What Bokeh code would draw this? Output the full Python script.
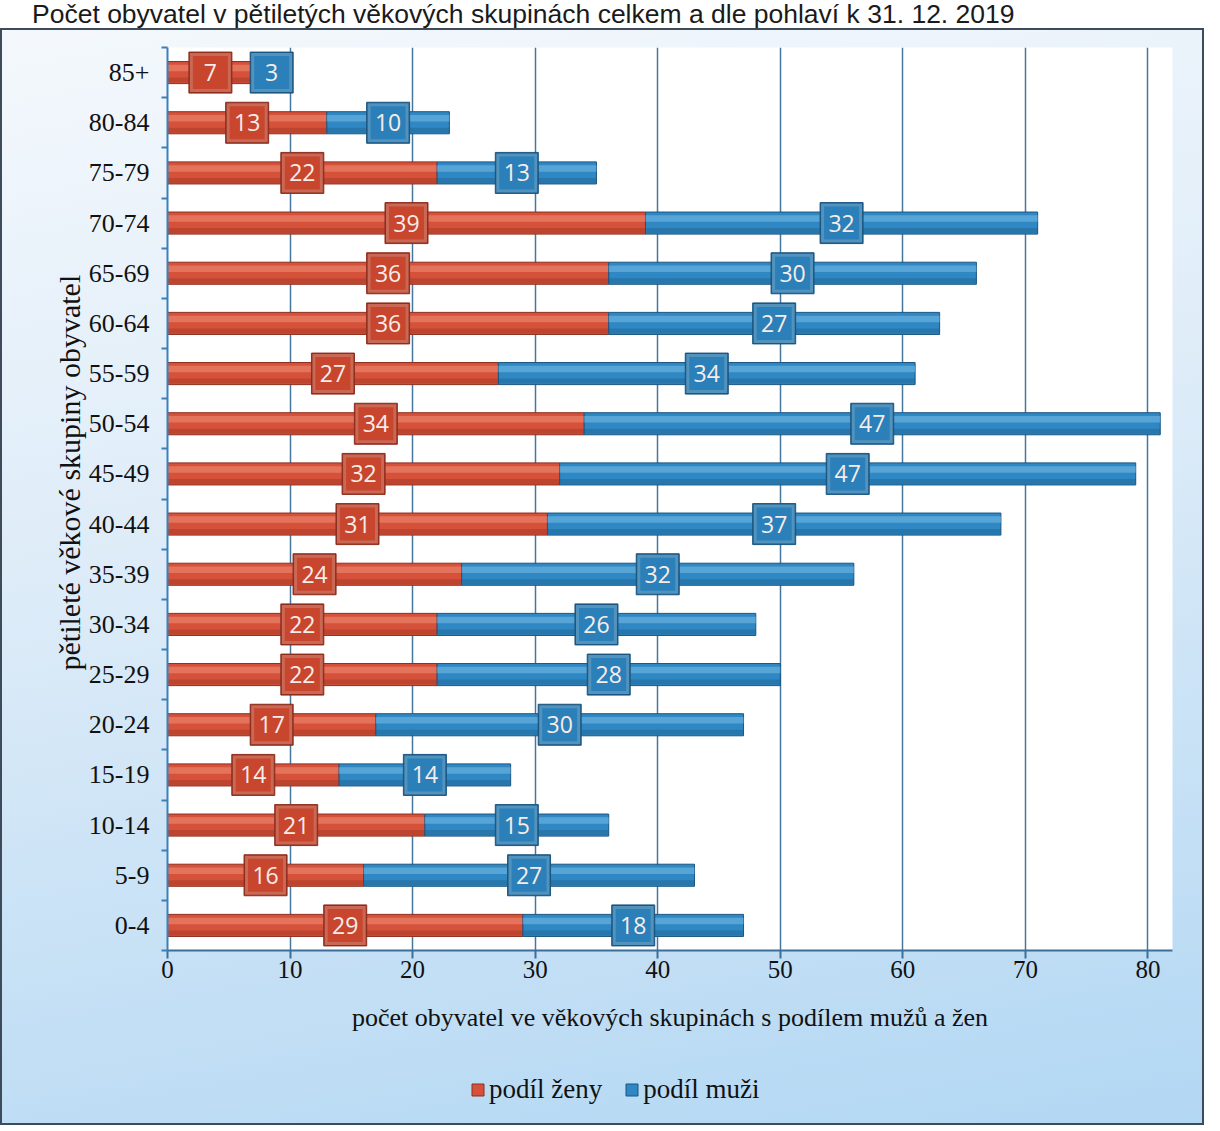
from bokeh.plotting import figure
from bokeh.models import (ColumnDataSource, FixedTicker, Legend, LegendItem, Div, Range1d, Title)
from bokeh.layouts import column
from bokeh.embed import file_html
from bokeh.resources import INLINE
from bokeh.core.properties import value

# ---- data (bottom to top) ----
groups = ["0-4", "5-9", "10-14", "15-19", "20-24", "25-29", "30-34", "35-39", "40-44",
          "45-49", "50-54", "55-59", "60-64", "65-69", "70-74", "75-79", "80-84", "85+"]
zeny = [29, 16, 21, 14, 17, 22, 22, 24, 31, 32, 34, 27, 36, 36, 39, 22, 13, 7]
muzi = [18, 27, 15, 14, 30, 28, 26, 32, 37, 47, 47, 34, 27, 30, 32, 13, 10, 3]
x_ticks = [0, 10, 20, 30, 40, 50, 60, 70, 80]
series_names = ["podíl ženy", "podíl muži"]

title_text = "Počet obyvatel v pětiletých věkových skupinách celkem a dle pohlaví k 31. 12. 2019"
x_title = "počet obyvatel ve věkových skupinách s podílem mužů a žen"
y_title = "pětileté věkové skupiny obyvatel"

RED, RED_HI, RED_DK, RED_BOX = "#d6513a", "#f09078", "#8f2e1e", "#c8462e"
BLUE, BLUE_HI, BLUE_DK, BLUE_BOX = "#2f88c3", "#78bce6", "#1b5682", "#2b80ba"
SERIF = "Liberation Serif"

ypos = list(range(1, len(groups) + 1))
m_end = [z + m for z, m in zip(zeny, muzi)]

src = ColumnDataSource(dict(
    y=ypos,
    y_hi=[v + 0.09 for v in ypos],
    y_lo=[v - 0.15 for v in ypos],
    z0=[0] * len(zeny), z1=list(zeny),
    m0=list(zeny), m1=m_end,
    zc=[z / 2 for z in zeny],
    mc=[z + m / 2 for z, m in zip(zeny, muzi)],
    zl=[str(v) for v in zeny],
    ml=[str(v) for v in muzi],
))

p = figure(x_range=Range1d(0, 82), y_range=Range1d(0.5, 18.5),
           frame_width=1005, frame_height=903,
           output_backend="svg", toolbar_location=None,
           min_border_left=167, min_border_right=32,
           min_border_top=19, min_border_bottom=110)
p.border_fill_color = None
p.background_fill_color = "white"
p.outline_line_color = None

# bars
bh = 0.44
p.hbar(y="y", left="z0", right="z1", height=bh, source=src,
       fill_color=RED, line_color=RED_DK, line_width=1)
p.hbar(y="y_hi", left="z0", right="z1", height=0.13, source=src,
       fill_color=RED_HI, fill_alpha=0.55, line_color=None)
p.hbar(y="y_lo", left="z0", right="z1", height=0.1, source=src,
       fill_color=RED_DK, fill_alpha=0.35, line_color=None)
p.hbar(y="y", left="m0", right="m1", height=bh, source=src,
       fill_color=BLUE, line_color=BLUE_DK, line_width=1)
p.hbar(y="y_hi", left="m0", right="m1", height=0.13, source=src,
       fill_color=BLUE_HI, fill_alpha=0.55, line_color=None)
p.hbar(y="y_lo", left="m0", right="m1", height=0.1, source=src,
       fill_color=BLUE_DK, fill_alpha=0.35, line_color=None)

# label boxes (bevelled look)
for xc, lab, box, dk, hi in (("zc", "zl", RED_BOX, RED_DK, RED_HI),
                             ("mc", "ml", BLUE_BOX, BLUE_DK, BLUE_HI)):
    p.rect(x=xc, y="y", width=43, height=41, width_units="screen", height_units="screen",
           source=src, fill_color=dk, line_color=dk, line_width=1)
    p.rect(x=xc, y="y", width=41, height=39, width_units="screen", height_units="screen",
           source=src, fill_color=hi, fill_alpha=0.6, line_color=None)
    p.rect(x=xc, y="y", width=35, height=33, width_units="screen", height_units="screen",
           source=src, fill_color=box, line_color=None)
    p.text(x=xc, y="y", text=lab, source=src, text_align="center", text_baseline="middle",
           text_color="#f7ece8", text_font=value("Open Sans"), text_font_size="23px")

# x axis
p.xaxis.ticker = FixedTicker(ticks=x_ticks)
p.xaxis.axis_line_color = "#3b6f99"
p.xaxis.axis_line_width = 2
p.xaxis.major_tick_line_color = "#3b6f99"
p.xaxis.major_tick_line_width = 2
p.xaxis.major_tick_in = 0
p.xaxis.major_tick_out = 8
p.xaxis.minor_tick_line_color = None
p.xaxis.major_label_text_font = SERIF
p.xaxis.major_label_text_font_size = "25px"
p.xaxis.major_label_text_color = "#111111"
p.xaxis.major_label_standoff = 2
p.xaxis.axis_label = x_title
p.xaxis.axis_label_text_font = SERIF
p.xaxis.axis_label_text_font_size = "26px"
p.xaxis.axis_label_text_font_style = "normal"
p.xaxis.axis_label_text_color = "#111111"
p.xaxis.axis_label_standoff = 22

# y axis
p.yaxis.ticker = FixedTicker(ticks=ypos, minor_ticks=[v + 0.5 for v in range(0, 19)])
p.yaxis.major_label_overrides = {i: g for i, g in zip(ypos, groups)}
p.yaxis.axis_line_color = "#3b80b8"
p.yaxis.axis_line_width = 2
p.yaxis.major_tick_line_color = None
p.yaxis.minor_tick_line_color = "#3b80b8"
p.yaxis.minor_tick_line_width = 2
p.yaxis.minor_tick_in = 0
p.yaxis.minor_tick_out = 6
p.yaxis.major_label_text_font = SERIF
p.yaxis.major_label_text_font_size = "26px"
p.yaxis.major_label_text_color = "#111111"
p.yaxis.major_label_standoff = 12

# y title as a left-side title, starting higher than centre like the reference
p.add_layout(Title(text=y_title, align="left", offset=280, standoff=0,
                   text_font=SERIF, text_font_size="30px", text_font_style="normal",
                   text_color="#111111"), "left")

# grid
p.xgrid.grid_line_color = "#45769c"
p.xgrid.grid_line_width = 1.5
p.ygrid.grid_line_color = None

# legend strip (separate transparent figure so the legend is not clipped);
# its frame is aligned with the main frame by the column layout
lg = figure(width=1204, height=65, x_range=Range1d(0, 1), y_range=Range1d(0, 1),
            x_axis_location=None, y_axis_location=None,
            output_backend="svg", toolbar_location=None,
            min_border=0, min_border_left=0, min_border_right=0,
            min_border_top=0, min_border_bottom=0)
lg.grid.visible = False
lg.outline_line_color = None
lg.background_fill_color = None
lg.border_fill_color = None
dummy = ColumnDataSource(dict(y=[-5], left=[-5], right=[-4]))
lr = lg.hbar(y="y", left="left", right="right", height=1, source=dummy,
             fill_color=RED, line_color=RED_DK)
lb = lg.hbar(y="y", left="left", right="right", height=1, source=dummy,
             fill_color=BLUE, line_color=BLUE_DK)
legend = Legend(items=[LegendItem(label=series_names[0], renderers=[lr]),
                       LegendItem(label=series_names[1], renderers=[lb])],
                orientation="horizontal", location=(299, 16),
                label_text_font=SERIF, label_text_font_size="27px", label_text_color="#111111",
                glyph_width=15, glyph_height=15, label_standoff=4, spacing=22,
                background_fill_alpha=0, border_line_alpha=0, margin=0, padding=4)
lg.add_layout(legend)

chart = column(p, lg, spacing=0, styles={
    "background": "linear-gradient(170deg, #f4f8fc 0%, #dcebf8 45%, #b2d7f3 100%)",
    "box-shadow": "inset 0 0 0 2px #3d4b5a",
})

title = Div(text=('<div style="font-family: \'Liberation Sans\', Arial, sans-serif; font-size: 26.5px; '
                  'padding-left: 27px; white-space: nowrap; line-height: 18px; '
                  'color: #1a1a1a;">' + title_text + '</div>'),
            width=1204, height=18)

layout = column(title, chart, spacing=0)
open("out.html", "w").write(file_html(layout, INLINE))
